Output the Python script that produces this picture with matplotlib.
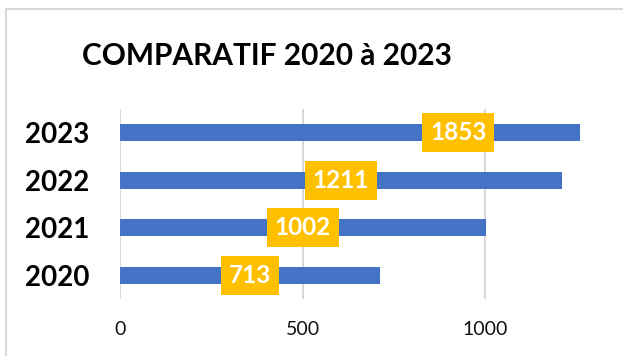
import matplotlib.pyplot as plt
from matplotlib.patches import Rectangle

# yearly totals
years = ['2020', '2021', '2022', '2023']
totals = [713, 1002, 1211, 1853]
x_max = 1260  # axis upper bound, the 2023 bar runs past it
x_ticks = [0, 500, 1000]

plt.rcParams['font.family'] = ['Lato', 'DejaVu Sans']

W, H = 623, 356
fig = plt.figure(figsize=(W / 100, H / 100), dpi=100)

# light grey chart frame
fig.patches.append(Rectangle((6 / W, -0.1), 1.2, 1 - 9 / H + 0.1,
                             transform=fig.transFigure, fill=False,
                             edgecolor='#D9D9D9', linewidth=1.5))

ax = fig.add_axes([120 / W, 1 - 299 / H, 460 / W, 190 / H])
ax.barh(years, totals, height=0.35, color='#4472C4', zorder=2)
ax.set_xlim(0, x_max)
ax.set_ylim(-0.5, len(years) - 0.5)
ax.set_xticks(x_ticks)
ax.set_xticklabels([str(t) for t in x_ticks])

for s in ax.spines.values():
    s.set_visible(False)
ax.tick_params(axis='both', length=0)
ax.tick_params(axis='x', labelsize=14, pad=16, labelcolor='#111111')
ax.tick_params(axis='y', labelsize=20, pad=22)
for lbl in ax.get_yticklabels():
    lbl.set_fontweight('bold')
ax.grid(axis='x', color='#D9D9D9', linewidth=1.5, zorder=1)
ax.set_axisbelow(True)

# value labels centred on each bar
for i, v in enumerate(totals):
    ax.text(v / 2, i, str(v), ha='center', va='center', fontsize=17.5,
            fontweight='bold', color='white', zorder=4,
            bbox=dict(boxstyle='square,pad=0.33', facecolor='#FFC000',
                      edgecolor='none'))

fig.text(267 / W, 1 - 56 / H, 'COMPARATIF 2020 à 2023', ha='center',
         va='center', fontsize=21.5, fontweight='bold', color='black')

fig.savefig('out.png', dpi=100)
